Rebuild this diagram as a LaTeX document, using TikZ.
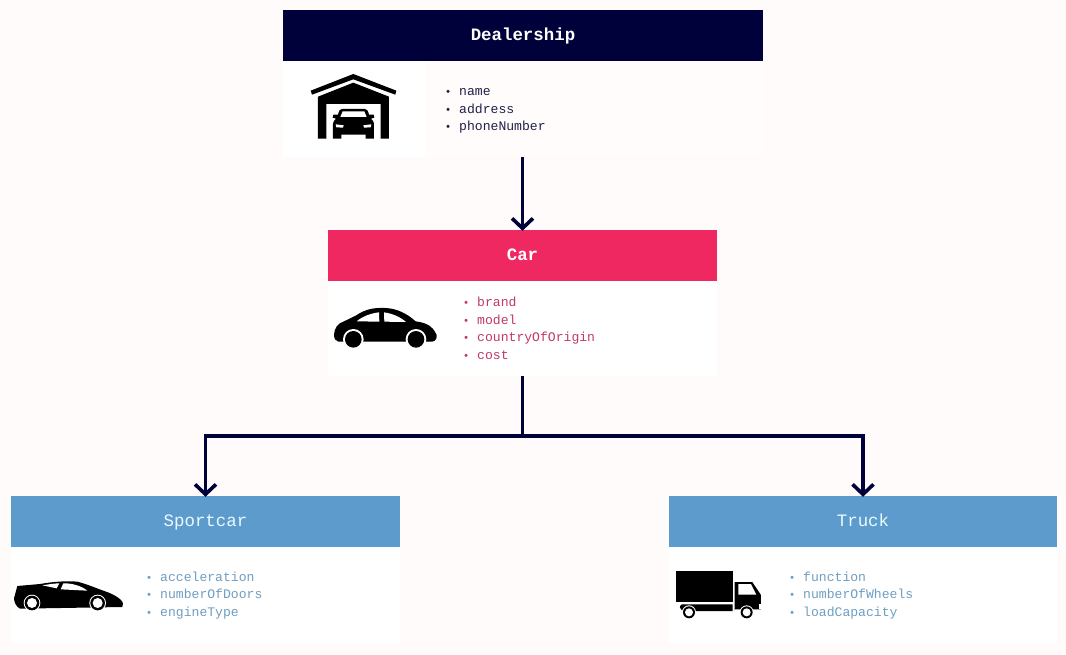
\documentclass[tikz,border=0pt]{standalone}
\usepackage{fontspec}
\setmainfont{Liberation Mono}
\usetikzlibrary{arrows.meta}
\definecolor{pagebg}{HTML}{FFFBFA}
\definecolor{softbg}{HTML}{FFFCFB}
\definecolor{navy}{HTML}{00003A}
\definecolor{rose}{HTML}{EF2862}
\definecolor{sky}{HTML}{5E9BCD}
\definecolor{navytext}{HTML}{20204A}
\definecolor{rosetext}{HTML}{C23A62}
\definecolor{skytext}{HTML}{6F9EC2}
\definecolor{titlepale}{HTML}{E8FBFF}
\newcommand{\itm}[1]{\makebox[17pt][l]{\hspace{2.6pt}\fontsize{11}{11}\selectfont •}#1}
\tikzset{
  headbox/.style={draw=none,inner sep=0pt,minimum width=#1,minimum height=51pt,
    text height=12.6pt,text depth=3.6pt,font=\fontsize{17.4}{20}\selectfont},
  bodybox/.style={draw=none,fill=white,inner sep=0pt,minimum width=#1,minimum height=96pt},
  attr/.style={anchor=base west,inner sep=0pt,font=\fontsize{13.1}{15}\selectfont},
  link/.style={draw=navy,line width=3.4pt,shorten >=-1pt,-{Straight Barb[length=10pt,width=21pt,line width=3.6pt]}},
  trunk/.style={draw=navy,line width=3.4pt},
  zoomat/.style 2 args={shift={(#1,#2)},x=0.3333pt,y=-0.3333pt}
}
\begin{document}
\begin{tikzpicture}[x=1pt,y=-1pt]
\useasboundingbox (0,0) rectangle (1066,654);
\fill[pagebg] (0,0) rectangle (1066,654);

% boxes
\node[headbox=480pt,fill=navy,text=white] (dealhead) at (523,35.5) {\bfseries Dealership};
\node[bodybox=480pt,fill=softbg] (dealbody) at (523,109) {};
\node[bodybox=142pt] (dealicon) at (354,109) {};
\node[headbox=389pt,fill=rose,text=white] (carhead) at (522.5,255.5) {\bfseries Car};
\node[bodybox=389pt,minimum height=95pt] (carbody) at (522.5,328.5) {};
\node[headbox=389pt,fill=sky,text=titlepale] (sporthead) at (205.5,521.5) {Sportcar};
\node[bodybox=389pt] (sportbody) at (205.5,595) {};
\node[headbox=388pt,fill=sky,text=titlepale] (truckhead) at (863,521.5) {Truck};
\node[bodybox=388pt] (truckbody) at (863,595) {};

% connectors
\coordinate (fork) at (522.5,436);
\draw[link] (dealbody.south -| carhead.north) -- (carhead.north);
\draw[trunk] (carbody.south) -- (fork);
\draw[link] (fork) -| (sporthead.north);
\draw[link] (fork) -| (truckhead.north);

% attribute texts
\begin{scope}[text=navytext]
\node[attr] (d1) at (442,95) {\itm{name}};
\node[attr] (d2) at (442,113) {\itm{address}};
\node[attr] (d3) at (442,130) {\itm{phoneNumber}};
\end{scope}
\begin{scope}[text=rosetext]
\node[attr] (c1) at (460,306) {\itm{brand}};
\node[attr] (c2) at (460,324) {\itm{model}};
\node[attr] (c3) at (460,341) {\itm{countryOfOrigin}};
\node[attr] (c4) at (460,359) {\itm{cost}};
\end{scope}
\begin{scope}[text=skytext]
\node[attr] (s1) at (143,581) {\itm{acceleration}};
\node[attr] (s2) at (143,598) {\itm{numberOfDoors}};
\node[attr] (s3) at (143,616) {\itm{engineType}};
\node[attr] (t1) at (786,581) {\itm{function}};
\node[attr] (t2) at (786,598) {\itm{numberOfWheels}};
\node[attr] (t3) at (786,616) {\itm{loadCapacity}};
\end{scope}

% garage icon
\begin{scope}[zoomat={283}{0}]
\fill[black] (83,272) -- (211,222) -- (340,272) -- (337,284) -- (211,238) -- (87,284) -- cycle;
\fill[black] (105,416) -- (105,290) -- (211,248) -- (318,290) -- (318,416) -- (293,416) -- (293,312) -- (130,312) -- (130,416) -- cycle;
\fill[black] (176,327) -- (246,327) .. controls (252,327) and (255,332) .. (258,344)
  -- (272,344) -- (274,353) -- (264,356) .. controls (270,362) and (273,366) .. (273,372)
  -- (273,416) -- (248,416) -- (248,404) -- (175,404) -- (175,416) -- (150,416) -- (150,372)
  .. controls (150,366) and (153,362) .. (159,356) -- (149,353) -- (151,344) -- (165,344)
  .. controls (168,332) and (171,327) .. (176,327) -- cycle;
\fill[white] (179,334) -- (244,334) -- (251,351) -- (172,351) -- cycle;
\fill[white] (158,373) -- (182,376) -- (180,383) -- (160,382) -- cycle;
\fill[white] (265,373) -- (241,376) -- (243,383) -- (263,382) -- cycle;
\end{scope}

% car icon
\begin{scope}[zoomat={325}{280}]
\fill[black] (27,165) .. controls (27,145) and (40,128) .. (55,125)
  -- (92,107) .. controls (125,85) and (150,83) .. (180,84)
  .. controls (215,85) and (245,100) .. (272,124)
  .. controls (300,128) and (322,135) .. (335,165)
  .. controls (336,175) and (332,183) .. (322,185)
  -- (40,185) .. controls (32,184) and (27,175) .. (27,165) -- cycle;
\fill[white] (95,124) .. controls (115,107) and (140,100) .. (162,97) -- (163,125) -- cycle;
\fill[white] (177,97) .. controls (200,100) and (225,110) .. (243,126) -- (178,125) -- cycle;
\fill[white] (85,178) circle (31);
\fill[white] (273,178) circle (31);
\fill[black] (85,178) circle (25);
\fill[black] (273,178) circle (25);
\end{scope}

% sports car icon
\begin{scope}[zoomat={0}{550}]
\fill[black] (42,145) -- (52,108) -- (120,102) .. controls (160,95) and (200,92) .. (232,95)
  .. controls (260,102) and (290,115) .. (310,122)
  .. controls (335,130) and (365,145) .. (369,160)
  -- (367,171) -- (60,176) .. controls (48,170) and (42,155) .. (42,145) -- cycle;
\fill[white] (127,106) .. controls (145,103) and (165,100) .. (178,100) -- (170,115) -- cycle;
\fill[white] (190,100) .. controls (215,99) and (245,108) .. (262,122) -- (182,118) -- cycle;
\fill[white] (96,159) circle (25);
\fill[white] (293,159) circle (25);
\fill[black] (96,159) circle (22);
\fill[black] (293,159) circle (22);
\fill[white] (96,159) circle (15);
\fill[white] (293,159) circle (15);
\end{scope}

% truck icon
\begin{scope}[zoomat={665}{550}]
\fill[black] (33,63) rectangle (203,155);
\fill[black] (50,163) -- (203,163) -- (203,183) -- (90,183) -- (50,180) .. controls (44,178) and (42,168) .. (50,163) -- cycle;
\fill[black] (209,96) -- (262,96) -- (288,135) -- (288,178) -- (209,178) -- (209,183) -- cycle;
\fill[white] (220,102) -- (258,102) -- (274,134) -- (220,134) -- cycle;
\fill[white] (283,162) rectangle (288,176);
\fill[white] (72,187) circle (21);
\fill[white] (245,187) circle (21);
\fill[black] (72,187) circle (18);
\fill[black] (245,187) circle (18);
\fill[white] (72,187) circle (12);
\fill[white] (245,187) circle (12);
\end{scope}
\end{tikzpicture}
\end{document}
